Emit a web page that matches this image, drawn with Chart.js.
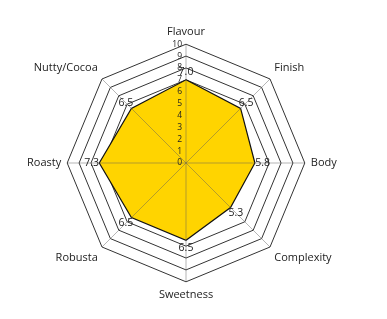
<!DOCTYPE html>
<html>
<head>
<meta charset="utf-8">
<script src="https://cdn.jsdelivr.net/npm/chart.js@4/dist/chart.umd.min.js"></script>
<style>
	html, body { margin: 0; padding: 0; background: #fff; }
	#wrap { width: 387px; height: 319px; }
</style>
</head>
<body>
<div id="wrap"><canvas id="tasteChart"></canvas></div>
<script>
const attributes = ['Flavour', 'Finish', 'Body', 'Complexity', 'Sweetness', 'Robusta', 'Roasty', 'Nutty/Cocoa'];
const scores = [7.0, 6.5, 5.8, 5.3, 6.5, 6.5, 7.3, 6.5];
const tickValues = [0, 1, 2, 3, 4, 5, 6, 7, 8, 9, 10];

// spokes over the fill, value labels next to each point, tick labels left of the vertical axis
const overlay = {
	id: 'overlay',
	afterDatasetsDraw(chart) {
		const scale = chart.scales.r;
		const ctx = chart.ctx;
		ctx.save();
		ctx.strokeStyle = 'rgba(90,90,90,0.45)';
		ctx.lineWidth = 1;
		attributes.forEach(function(a, i) {
			const p = scale.getPointPositionForValue(i, scale.max);
			ctx.beginPath();
			ctx.moveTo(scale.xCenter, scale.yCenter);
			ctx.lineTo(p.x, p.y);
			ctx.stroke();
		});
		ctx.fillStyle = '#222';
		ctx.font = '10.5px "Open Sans"';
		ctx.textAlign = 'center';
		ctx.textBaseline = 'middle';
		scores.forEach(function(v, i) {
			const p = scale.getPointPositionForValue(i, v + 0.65);
			ctx.fillText(v.toFixed(1), p.x, p.y);
		});
		ctx.font = '8.5px "Open Sans"';
		ctx.textAlign = 'right';
		tickValues.forEach(function(t) {
			const y = scale.yCenter - scale.getDistanceFromCenterForValue(t);
			ctx.fillText(String(t), scale.xCenter - 4, y);
		});
		ctx.restore();
	}
};

new Chart(document.getElementById('tasteChart'), {
	type: 'radar',
	data: {
		labels: attributes,
		datasets: [{
			data: scores,
			backgroundColor: '#ffd400',
			borderColor: '#111',
			borderWidth: 1.2,
			pointRadius: 0,
			fill: true
		}]
	},
	options: {
		responsive: true,
		maintainAspectRatio: false,
		animation: false,
		layout: { padding: { top: 25, bottom: 17, left: 0, right: 14 } },
		plugins: { legend: { display: false }, tooltip: { enabled: false } },
		scales: {
			r: {
				min: 0,
				max: 10,
				ticks: { stepSize: 1, display: false },
				grid: {
					color: function(c) { return c.tick && c.tick.value >= 7 ? '#333' : 'rgba(0,0,0,0)'; },
					lineWidth: 1
				},
				angleLines: { display: false },
				pointLabels: {
					color: '#222',
					font: { family: '"Open Sans"', size: 11 },
					padding: 6
				}
			}
		}
	},
	plugins: [overlay]
});
</script>
</body>
</html>
